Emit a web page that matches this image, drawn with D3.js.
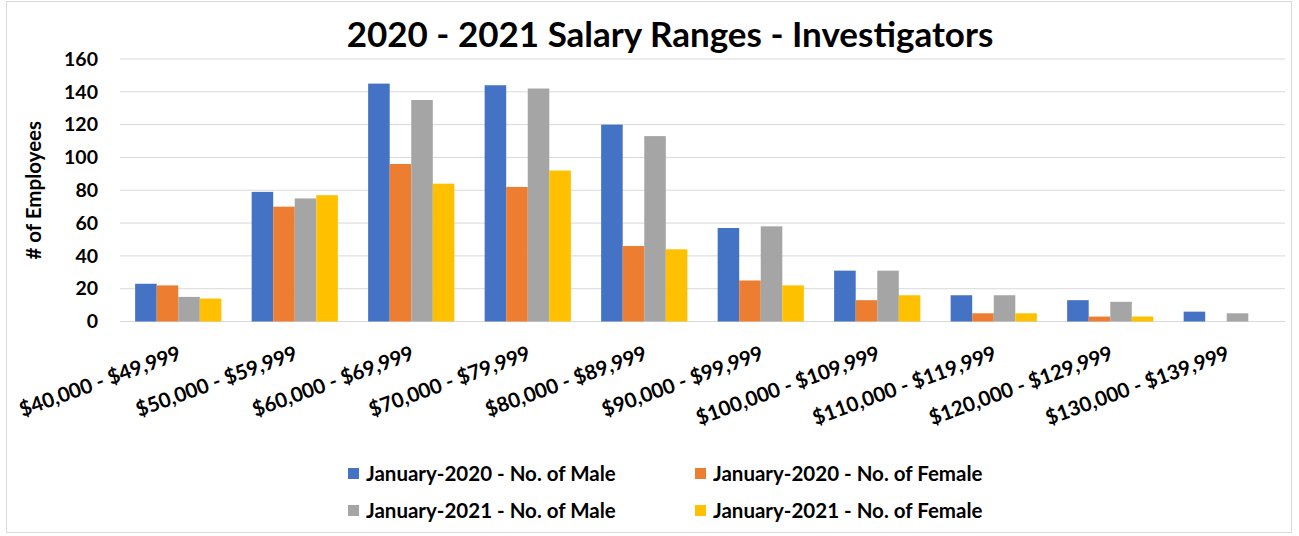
<!DOCTYPE html>
<html>
  <head>
    <meta charset="utf-8">
    <script src="https://d3js.org/d3.v7.min.js"></script>
    <style>
      body { margin: 0; background: #fff; }
      svg text { font-family: Lato, 'Open Sans', sans-serif; font-weight: bold; fill: #000; }
    </style>
  </head>
  <body>
    <svg></svg>
    <script type="text/javascript">
      const ranges = [
        '$40,000 - $49,999', '$50,000 - $59,999', '$60,000 - $69,999',
        '$70,000 - $79,999', '$80,000 - $89,999', '$90,000 - $99,999',
        '$100,000 - $109,999', '$110,000 - $119,999', '$120,000 - $129,999',
        '$130,000 - $139,999'
      ]
      const seriesNames = [
        'January-2020 - No. of Male', 'January-2020 - No. of Female',
        'January-2021 - No. of Male', 'January-2021 - No. of Female'
      ]
      const male2020   = [23, 79, 145, 144, 120, 57, 31, 16, 13, 6]
      const female2020 = [22, 70, 96, 82, 46, 25, 13, 5, 3, 0]
      const male2021   = [15, 75, 135, 142, 113, 58, 31, 16, 12, 5]
      const female2021 = [14, 77, 84, 92, 44, 22, 16, 5, 3, 0]
      const yTicks = [0, 20, 40, 60, 80, 100, 120, 140, 160]

      const width = 1299
      const height = 536
      const colors = ['#4472C4', '#ED7D31', '#A5A5A5', '#FFC000']
      const values = [male2020, female2020, male2021, female2021]

      const svg = d3.select('svg')
        .attr('width', width)
        .attr('height', height)

      // chart frame
      svg.append('rect')
        .attr('x', 6.5).attr('y', 1.5)
        .attr('width', 1285).attr('height', 531)
        .attr('fill', 'none')
        .attr('stroke', '#d9d9d9')

      const margin = {left: 120, right: 14, top: 59, bottom: 214.5}

      const x = d3.scaleBand()
        .domain(ranges)
        .range([margin.left, width - margin.right])
        .paddingInner(0.26)
        .paddingOuter(0.13)

      const xs = d3.scaleBand()
        .domain(d3.range(4))
        .range([0, x.bandwidth()])

      const y = d3.scaleLinear()
        .domain([0, 160])
        .range([height - margin.bottom, margin.top])

      // grid
      svg.append('g')
        .selectAll('line')
        .data(yTicks)
        .join('line')
          .attr('x1', margin.left)
          .attr('x2', width - margin.right)
          .attr('y1', d => y(d))
          .attr('y2', d => y(d))
          .attr('stroke', '#d9d9d9')
          .attr('stroke-width', 1)

      // y axis labels
      const yAxis = svg.append('g')
        .attr('transform', `translate(${margin.left - 22},0)`)
        .call(d3.axisLeft(y).tickValues(yTicks).tickSize(0).tickPadding(0))
      yAxis.select('.domain').remove()
      yAxis.selectAll('text')
        .attr('font-size', 19.5)
        .attr('font-family', 'Lato, sans-serif')
        .attr('font-weight', 'bold')

      svg.append('text')
        .attr('transform', `translate(41,${(y(0) + y(160)) / 2}) rotate(-90)`)
        .attr('text-anchor', 'middle')
        .attr('font-size', 20.5)
        .text('# of Employees')

      // bars
      const groups = svg.append('g')
        .selectAll('g')
        .data(ranges)
        .join('g')
          .attr('transform', d => `translate(${x(d)},0)`)

      groups.selectAll('rect')
        .data((d, i) => values.map((s, k) => ({k: k, v: s[i]})))
        .join('rect')
          .attr('x', d => xs(d.k))
          .attr('width', xs.bandwidth())
          .attr('y', d => y(d.v))
          .attr('height', d => y(0) - y(d.v))
          .attr('fill', d => colors[d.k])

      // x labels
      svg.append('g')
        .selectAll('text')
        .data(ranges)
        .join('text')
          .attr('transform', d => `translate(${x(d) + x.bandwidth() / 2 + 4},359) rotate(-20)`)
          .attr('text-anchor', 'end')
          .attr('font-size', 20.5)
          .text(d => d)

      // title
      svg.append('text')
        .attr('x', 670)
        .attr('y', 47)
        .attr('text-anchor', 'middle')
        .attr('font-size', 35)
        .text('2020 - 2021 Salary Ranges - Investigators')

      // legend
      const legendPos = [[348, 474], [695, 474], [348, 511], [695, 511]]
      const legend = svg.append('g')
        .selectAll('g')
        .data(seriesNames)
        .join('g')
          .attr('transform', (d, i) => `translate(${legendPos[i][0]},${legendPos[i][1]})`)
      legend.append('rect')
        .attr('x', 0).attr('y', -6)
        .attr('width', 11).attr('height', 11)
        .attr('fill', (d, i) => colors[i])
      legend.append('text')
        .attr('x', 18)
        .attr('y', 7)
        .attr('font-size', 20.5)
        .text(d => d)
    </script>
  </body>
</html>
